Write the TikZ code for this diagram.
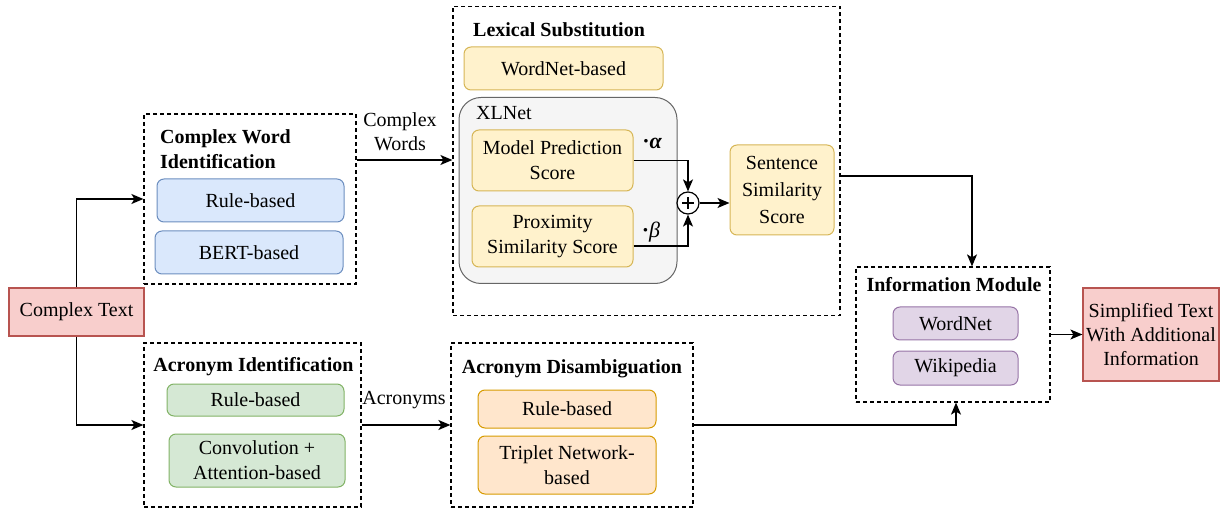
\documentclass[tikz,border=0pt]{standalone}
\usepackage{fontspec}
\setmainfont{Liberation Serif}
\usetikzlibrary{arrows.meta}
\definecolor{redF}{HTML}{F8CECC}\definecolor{redD}{HTML}{B85450}
\definecolor{blueF}{HTML}{DAE8FC}\definecolor{blueD}{HTML}{6C8EBF}
\definecolor{greenF}{HTML}{D5E8D4}\definecolor{greenD}{HTML}{82B366}
\definecolor{yelF}{HTML}{FFF2CC}\definecolor{yelD}{HTML}{D6B656}
\definecolor{orgF}{HTML}{FFE6CC}\definecolor{orgD}{HTML}{D79B00}
\definecolor{purF}{HTML}{E1D5E7}\definecolor{purD}{HTML}{9673A6}
\definecolor{grayF}{HTML}{F5F5F5}\definecolor{grayD}{HTML}{666666}
\tikzset{
  sz/.style n args={2}{minimum width=#1, minimum height=#2},
  item/.style={rounded corners=7pt, line width=1pt, align=center, inner sep=0pt},
  bluebox/.style={item, fill=blueF, draw=blueD},
  greenbox/.style={item, fill=greenF, draw=greenD},
  yelbox/.style={item, fill=yelF, draw=yelD},
  orgbox/.style={item, fill=orgF, draw=orgD},
  purbox/.style={item, fill=purF, draw=purD},
  redbox/.style={fill=redF, draw=redD, line width=1.2pt, align=center, inner sep=0pt},
  group/.style={draw, line width=1.2pt, dash pattern=on 4pt off 3pt, inner sep=0pt},
  title/.style={font=\fontsize{20}{25}\selectfont\bfseries, inner sep=0pt, align=left},
  lbl/.style={inner sep=0pt, align=center},
  arr/.style={line width=1.4pt, -{Stealth[length=12pt, width=10pt, inset=3pt]}},
}
\begin{document}
\begin{tikzpicture}[x=1pt, y=-1pt, font=\fontsize{20}{25}\selectfont]
\useasboundingbox (0,0) rectangle (1220,510);
% groups
\node[group, sz={212}{170}] (cwi) at (250,199) {};
\node[group, sz={217}{164}] (aid) at (252.5,425) {};
\node[group, sz={387}{309}] (lex) at (646.5,161) {};
\node[group, sz={242}{164}] (ad) at (572,425) {};
\node[group, sz={194}{135}] (info) at (953,334.5) {};
% titles
\node[title, anchor=west] (cwiT) at (160,149.5) {Complex Word\\Identification};
\node[title] (aidT) at (253.5,367) {Acronym Identification};
\node[title, anchor=west] (lexT) at (473,30) {Lexical Substitution};
\node[title] (adT) at (572,369) {Acronym Disambiguation};
\node[title] (infoT) at (954,285) {Information Module};
% input / output
\node[redbox, sz={135}{48}] (ct) at (76.5,312) {Complex Text};
\node[redbox, sz={136}{93}, font=\fontsize{20}{24}\selectfont] (st) at (1151,334.5) {Simplified Text\\With Additional\\Information};
% CWI
\node[bluebox, sz={187}{43}] (cwr) at (250.5,200.5) {Rule-based};
\node[bluebox, sz={188}{43}] (cwb) at (249,252.5) {BERT-based};
% AI
\node[greenbox, sz={177}{32}] (air) at (255.5,400) {Rule-based};
\node[greenbox, sz={176}{53}] (aic) at (257,460.5) {Convolution +\\Attention-based};
% AD
\node[orgbox, sz={178}{38}] (adr) at (567,409) {Rule-based};
\node[orgbox, sz={178}{58}] (adt) at (567,465) {Triplet Network-\\based};
% Lexical substitution
\node[yelbox, sz={199}{43}] (wnb) at (563.5,68.5) {WordNet-based};
\node[item, fill=grayF, draw=grayD, rounded corners=22pt, sz={218}{186}] (xl) at (568,190.5) {};
\node[lbl, anchor=west] (xlT) at (476,113) {XLNet};
\node[yelbox, sz={161}{61}] (mps) at (552.5,160.5) {Model Prediction\\Score};
\node[yelbox, sz={161}{61}] (pss) at (552.5,236.5) {Proximity\\Similarity Score};
\node[circle, draw, line width=1.2pt, fill=white, minimum size=22pt, inner sep=0pt] (plus) at (688,203) {};
\draw[line width=1.2pt] ([xshift=-6pt]plus.center) -- ([xshift=6pt]plus.center)
  ([yshift=-6pt]plus.center) -- ([yshift=6pt]plus.center);
\node[yelbox, sz={104}{90}, font=\fontsize{20}{27}\selectfont] (sss) at (782,190) {Sentence\\Similarity\\Score};
\node[lbl, font=\fontsize{22}{26}\selectfont] (alpha) at (652,143) {{\bfseries ·}{\bfseries\itshape α}};
\node[lbl, font=\fontsize{22}{26}\selectfont] (beta) at (651,232) {{\bfseries ·}{\itshape β}};
% Information module
\node[purbox, sz={125}{33}] (wn) at (955.5,323.5) {WordNet};
\node[purbox, sz={125}{34}] (wk) at (955.5,368) {Wikipedia};
% connector labels
\node[lbl, font=\fontsize{20}{24}\selectfont] (cwL) at (400,132) {Complex\\Words};
\node[lbl] (acL) at (404,400) {Acronyms};
% connectors
\draw[arr] (ct.north) |- (cwi.west);
\draw[arr] (ct.south) |- (aid.west);
\draw[arr] (cwi.east |- 0,160) -- (lex.west |- 0,160);
\draw[arr] (aid.east) -- (ad.west);
\draw[arr] (mps.east) -| (plus.north);
\draw[arr] (pss.east |- 0,246) -| (plus.south);
\draw[arr] (plus.east) -- (sss.west |- plus.east);
\draw[arr] (lex.east |- 0,176) -| ([xshift=19pt]info.north);
\draw[arr] (ad.east) -| ([xshift=3pt]info.south);
\draw[arr] (info.east) -- (st.west |- info.east);
\end{tikzpicture}
\end{document}
